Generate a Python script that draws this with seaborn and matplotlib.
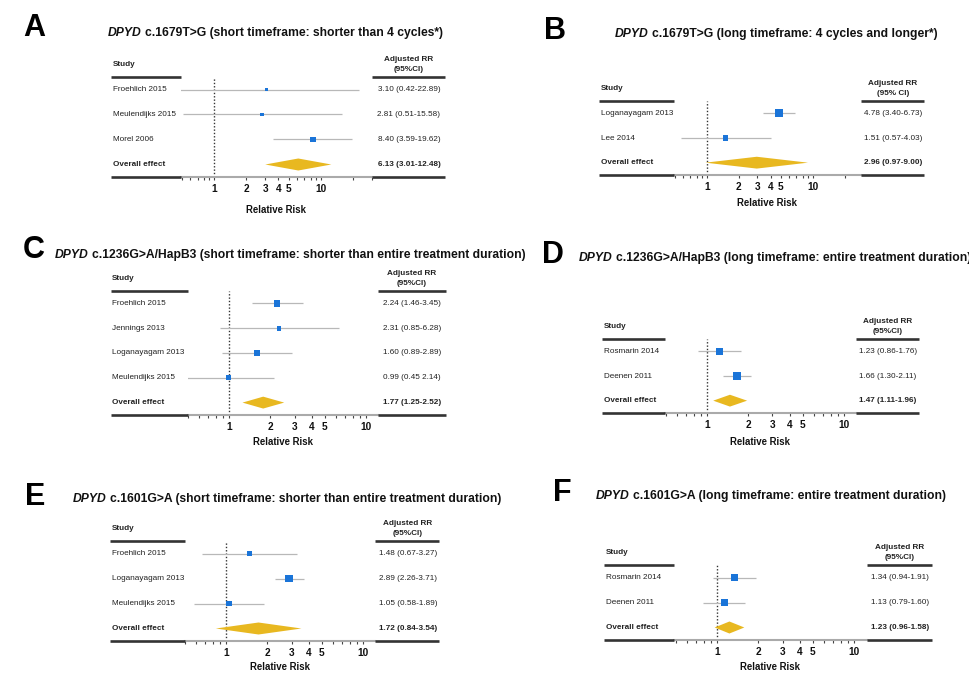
import numpy as np
import pandas as pd
import matplotlib
matplotlib.use("Agg")
import matplotlib.pyplot as plt
import matplotlib.transforms as mtransforms
from matplotlib.lines import Line2D
from matplotlib.ticker import FixedLocator, FixedFormatter, NullFormatter
import seaborn as sns

# ---------------- data ----------------
A_studies = ["Froehlich 2015", "Meulendijks 2015", "Morel 2006"]
A_rr = [3.10, 2.81, 8.40]
A_lo = [0.42, 0.51, 3.59]
A_hi = [22.89, 15.58, 19.62]
A_weight = [2.7, 2.7, 5.0]
A_text = ["3.10 (0.42-22.89)", "2.81 (0.51-15.58)", "8.40 (3.59-19.62)"]
A_overall = [6.13, 3.01, 12.48]
A_overall_text = "6.13 (3.01-12.48)"

B_studies = ["Loganayagam 2013", "Lee 2014"]
B_rr = [4.78, 1.51]
B_lo = [3.40, 0.57]
B_hi = [6.73, 4.03]
B_weight = [7.3, 4.7]
B_text = ["4.78 (3.40-6.73)", "1.51 (0.57-4.03)"]
B_overall = [2.96, 0.97, 9.00]
B_overall_text = "2.96 (0.97-9.00)"

C_studies = ["Froehlich 2015", "Jennings 2013", "Loganayagam 2013", "Meulendijks 2015"]
C_rr = [2.24, 2.31, 1.60, 0.99]
C_lo = [1.46, 0.85, 0.89, 0.45]
C_hi = [3.45, 6.28, 2.89, 2.14]
C_weight = [6.0, 4.0, 5.0, 4.7]
C_text = ["2.24 (1.46-3.45)", "2.31 (0.85-6.28)", "1.60 (0.89-2.89)", "0.99 (0.45 2.14)"]
C_overall = [1.77, 1.25, 2.52]
C_overall_text = "1.77 (1.25-2.52)"

D_studies = ["Rosmarin 2014", "Deenen 2011"]
D_rr = [1.23, 1.66]
D_lo = [0.86, 1.30]
D_hi = [1.76, 2.11]
D_weight = [6.0, 7.3]
D_text = ["1.23 (0.86-1.76)", "1.66 (1.30-2.11)"]
D_overall = [1.47, 1.11, 1.96]
D_overall_text = "1.47 (1.11-1.96)"

E_studies = ["Froehlich 2015", "Loganayagam 2013", "Meulendijks 2015"]
E_rr = [1.48, 2.89, 1.05]
E_lo = [0.67, 2.26, 0.58]
E_hi = [3.27, 3.71, 1.89]
E_weight = [4.0, 7.3, 5.3]
E_text = ["1.48 (0.67-3.27)", "2.89 (2.26-3.71)", "1.05 (0.58-1.89)"]
E_overall = [1.72, 0.84, 3.54]
E_overall_text = "1.72 (0.84-3.54)"

F_studies = ["Rosmarin 2014", "Deenen 2011"]
F_rr = [1.34, 1.13]
F_lo = [0.94, 0.79]
F_hi = [1.91, 1.60]
F_weight = [6.3, 6.3]
F_text = ["1.34 (0.94-1.91)", "1.13 (0.79-1.60)"]
F_overall = [1.23, 0.96, 1.58]
F_overall_text = "1.23 (0.96-1.58)"

titles = [
    "c.1679T>G (short timeframe: shorter than 4 cycles*)",
    "c.1679T>G (long timeframe: 4 cycles and longer*)",
    "c.1236G>A/HapB3 (short timeframe: shorter than entire treatment duration)",
    "c.1236G>A/HapB3 (long timeframe: entire treatment duration)",
    "c.1601G>A (short timeframe: shorter than entire treatment duration)",
    "c.1601G>A (long timeframe: entire treatment duration)",
]
letters = ["A", "B", "C", "D", "E", "F"]
rr_headers = ["Adjusted RR\n(95%CI)", "Adjusted RR\n(95% CI)", "Adjusted RR\n(95%CI)",
              "Adjusted RR\n(95%CI)", "Adjusted RR\n(95%CI)", "Adjusted RR\n(95%CI)"]
major_ticks = [1, 2, 3, 4, 5, 10]
major_labels = ["1", "2", "3", "4", "5", "10"]
minor_ticks = [0.5, 0.6, 0.7, 0.8, 0.9, 6, 7, 8, 9, 20, 30]

panels_data = [
    (A_studies, A_rr, A_lo, A_hi, A_weight, A_text, A_overall, A_overall_text),
    (B_studies, B_rr, B_lo, B_hi, B_weight, B_text, B_overall, B_overall_text),
    (C_studies, C_rr, C_lo, C_hi, C_weight, C_text, C_overall, C_overall_text),
    (D_studies, D_rr, D_lo, D_hi, D_weight, D_text, D_overall, D_overall_text),
    (E_studies, E_rr, E_lo, E_hi, E_weight, E_text, E_overall, E_overall_text),
    (F_studies, F_rr, F_lo, F_hi, F_weight, F_text, F_overall, F_overall_text),
]

# ---------------- layout (pixels) ----------------
layouts = [
    dict(left=181, right=372, top=77, bottom=177, lline=(111, 181), rline=(372, 445),
         study_x=113, rr_x=409, title=(108, 36), letter=(23, 36), xlim=(0.49, 30), xlab=33),
    dict(left=674, right=861, top=101, bottom=175, lline=(599, 674), rline=(861, 924),
         study_x=601, rr_x=893, title=(615, 37), letter=(544, 39), xlim=(0.49, 28.5), xlab=28),
    dict(left=188, right=378, top=291, bottom=415, lline=(111, 188), rline=(378, 446),
         study_x=112, rr_x=412, title=(55, 258), letter=(23, 258), xlim=(0.50, 12.2), xlab=27),
    dict(left=665, right=856, top=339, bottom=413, lline=(602, 665), rline=(856, 919),
         study_x=604, rr_x=888, title=(579, 261), letter=(542, 263), xlim=(0.494, 12.2), xlab=29),
    dict(left=185, right=375, top=541, bottom=641, lline=(110, 185), rline=(375, 439),
         study_x=112, rr_x=408, title=(73, 502), letter=(25, 505), xlim=(0.50, 12.2), xlab=26),
    dict(left=674, right=867, top=565, bottom=640, lline=(604, 674), rline=(867, 932),
         study_x=606, rr_x=900, title=(596, 499), letter=(553, 501), xlim=(0.485, 12.4), xlab=27),
]

sns.set_theme(style="white")
plt.rcParams["font.family"] = ["Liberation Sans", "DejaVu Sans"]

BLUE = "#1a74d8"
GOLD = "#e8b820"
CI_COL = "#b8b8b8"
DARK = "#333333"
TXT = "#222222"
FS = 5.9
TFS = 8.7

W, H = 970, 673
fig = plt.figure(figsize=(9.7, 6.73), dpi=100)
fig.patch.set_facecolor("white")


def fx(x):
    return x / W


def fy(y):
    return 1 - y / H


for (studies, rr, lo, hi, weight, texts, overall, overall_text), L, title, letter, hdr in zip(
        panels_data, layouts, titles, letters, rr_headers):
    ax = fig.add_axes([fx(L["left"]), fy(L["bottom"]),
                       (L["right"] - L["left"]) / W, (L["bottom"] - L["top"]) / H])
    ax.set_facecolor("none")
    n = len(studies)
    ys = np.arange(n)
    ax.set_xscale("log")

    ax.axvline(1, color=DARK, ls=(0, (1, 1.4)), lw=1.0, zorder=1)
    ax.hlines(ys, lo, hi, color=CI_COL, lw=0.9, zorder=2)
    df = pd.DataFrame({"rr": rr, "y": ys})
    sizes = [((w + 0.6) * 72 / 100) ** 2 for w in weight]
    sns.scatterplot(data=df, x="rr", y="y", marker="s", s=sizes, color=BLUE,
                    edgecolor="none", ax=ax, zorder=3, legend=False)
    est, olo, ohi = overall
    ax.fill([olo, est, ohi, est], [n, n - 0.24, n, n + 0.24], color=GOLD, lw=0, zorder=3)

    ax.set_xlim(*L["xlim"])
    ax.set_ylim(n + 0.5, -0.5)
    ax.set_yticks([])
    ax.set_ylabel("")
    for s in ["top", "left", "right"]:
        ax.spines[s].set_visible(False)
    ax.spines["bottom"].set_color("#aaaaaa")
    ax.spines["bottom"].set_linewidth(1.5)

    ax.xaxis.set_major_locator(FixedLocator(major_ticks))
    ax.xaxis.set_major_formatter(FixedFormatter(major_labels))
    ax.xaxis.set_minor_locator(FixedLocator(minor_ticks))
    ax.xaxis.set_minor_formatter(NullFormatter())
    ax.tick_params(axis="x", which="both", bottom=True, length=2.0, width=0.8,
                   color="#444444", direction="out", pad=3.0, labelsize=7.3,
                   labelcolor="#111111")
    for lbl in ax.get_xticklabels():
        lbl.set_fontweight("bold")

    ax.set_xlabel("Relative Risk", fontsize=6.9, fontweight="bold", color="#111111")
    ax.xaxis.set_label_coords(0.5, -L["xlab"] / (L["bottom"] - L["top"]))
    ax.xaxis.label.set_va("center")

    blend = mtransforms.blended_transform_factory(fig.transFigure, ax.transData)
    for i, s in enumerate(studies):
        ax.text(fx(L["study_x"]), i, s, transform=blend, ha="left", va="center",
                fontsize=FS, color=TXT, clip_on=False)
        ax.text(fx(L["rr_x"]), i, texts[i], transform=blend, ha="center", va="center",
                fontsize=FS, color=TXT, clip_on=False)
    ax.text(fx(L["study_x"]), n, "Overall effect", transform=blend, ha="left", va="center",
            fontsize=FS, fontweight="bold", color=TXT, clip_on=False)
    ax.text(fx(L["rr_x"]), n, overall_text, transform=blend, ha="center", va="center",
            fontsize=FS, fontweight="bold", color=TXT, clip_on=False)
    ax.text(fx(L["study_x"]), -1, "Study", transform=blend, ha="left", va="center",
            fontsize=FS, fontweight="bold", color=TXT, clip_on=False)
    ax.text(fx(L["rr_x"]), -1, hdr, transform=blend, ha="center", va="center",
            fontsize=FS, fontweight="bold", color=TXT, clip_on=False, linespacing=1.65)

    blend2 = mtransforms.blended_transform_factory(fig.transFigure, ax.transAxes)
    for yy in (0, 1):
        for (a, b) in (L["lline"], L["rline"]):
            fig.add_artist(Line2D([fx(a), fx(b)], [yy, yy], transform=blend2, color=DARK,
                                  lw=1.9, solid_capstyle="butt"))

    tx, ty = L["title"]
    t1 = fig.text(fx(tx), fy(ty), "DPYD", fontsize=TFS, fontweight="bold", style="italic",
                  ha="left", va="baseline", color="#111111")
    ax.annotate(title, xy=(1, 0), xycoords=t1, xytext=(2.6, 0), textcoords="offset points",
                ha="left", va="bottom", fontsize=TFS, fontweight="bold", color="#111111",
                annotation_clip=False)

    lx, ly = L["letter"]
    fig.text(fx(lx), fy(ly), letter, fontsize=22, fontweight="bold", ha="left",
             va="baseline", color="#000000")

fig.savefig("out.png", dpi=100, facecolor="white")
